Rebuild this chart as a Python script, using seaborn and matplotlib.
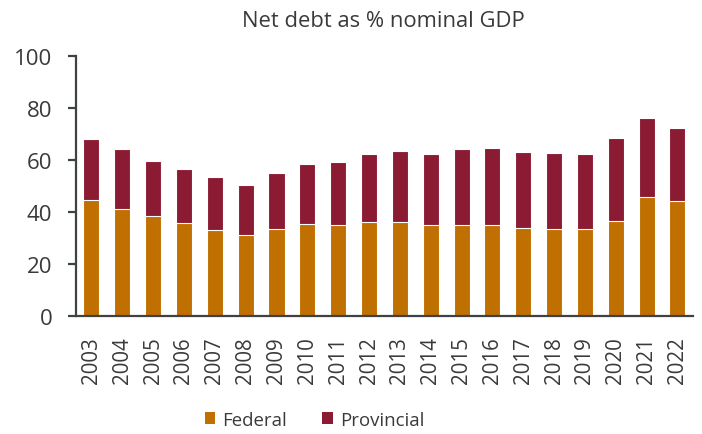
import matplotlib
matplotlib.use("Agg")
import matplotlib.pyplot as plt
from matplotlib.patches import Patch
import seaborn as sns
import pandas as pd

years = [str(y) for y in range(2003, 2023)]
federal = [44.7, 41.2, 38.5, 35.8, 33.1, 31.2, 33.5, 35.3, 35.0, 36.2,
           36.2, 34.9, 35.0, 34.9, 34.0, 33.5, 33.5, 36.7, 45.8, 44.4]
provincial = [23.5, 22.9, 21.2, 20.6, 20.3, 19.1, 21.7, 23.3, 24.3, 26.2,
              27.5, 27.5, 29.1, 29.9, 29.2, 29.2, 28.8, 31.8, 30.4, 27.9]

fed_color = "#C07000"
prov_color = "#8B1A33"
spine_color = "#3F4245"
text_color = "#3A3A3A"

sns.set_theme(style="white")
plt.rcParams["font.family"] = ["Open Sans", "DejaVu Sans"]

df = pd.DataFrame({"year": years, "Federal": federal, "Provincial": provincial})
df["total"] = df["Federal"] + df["Provincial"]

fig = plt.figure(figsize=(7.02, 4.35), dpi=100)
ax = fig.add_axes([0.1083, 0.272, 0.8787, 0.596])

# Stacked bars: full height in the provincial colour, federal share drawn over it
sns.barplot(data=df, x="year", y="total", color=prov_color, saturation=1,
            width=0.52, edgecolor="white", linewidth=0.8, ax=ax)
sns.barplot(data=df, x="year", y="Federal", color=fed_color, saturation=1,
            width=0.52, edgecolor="white", linewidth=0.8, ax=ax)

ax.set_xlim(-0.5, len(years) - 0.5)
ax.set_ylim(0, 100)
ax.set_yticks([0, 20, 40, 60, 80, 100])
ax.set_xlabel("")
ax.set_ylabel("")

for side in ["top", "right"]:
    ax.spines[side].set_visible(False)
for side in ["left", "bottom"]:
    ax.spines[side].set_color(spine_color)
    ax.spines[side].set_linewidth(1.6)

ax.tick_params(axis="y", which="both", left=True, length=6, width=1.6,
               color=spine_color, pad=11, labelsize=16, labelcolor=text_color)
ax.tick_params(axis="x", bottom=False, pad=9, labelsize=14.8, labelcolor=text_color)
plt.setp(ax.get_xticklabels(), rotation=90, va="top", ha="center")

fig.text(0.546, 0.950, "Net debt as % nominal GDP", ha="center", va="center",
         fontsize=15.8, color=text_color)

handles = [Patch(facecolor=fed_color, edgecolor="none", label="Federal"),
           Patch(facecolor=prov_color, edgecolor="none", label="Provincial")]
fig.legend(handles=handles, loc="center", bbox_to_anchor=(0.448, 0.033), ncol=2,
           frameon=False, fontsize=13.4, handlelength=0.55, handleheight=0.55,
           handletextpad=0.4, columnspacing=1.9, labelcolor=text_color)

fig.savefig("out.png", dpi=100)
